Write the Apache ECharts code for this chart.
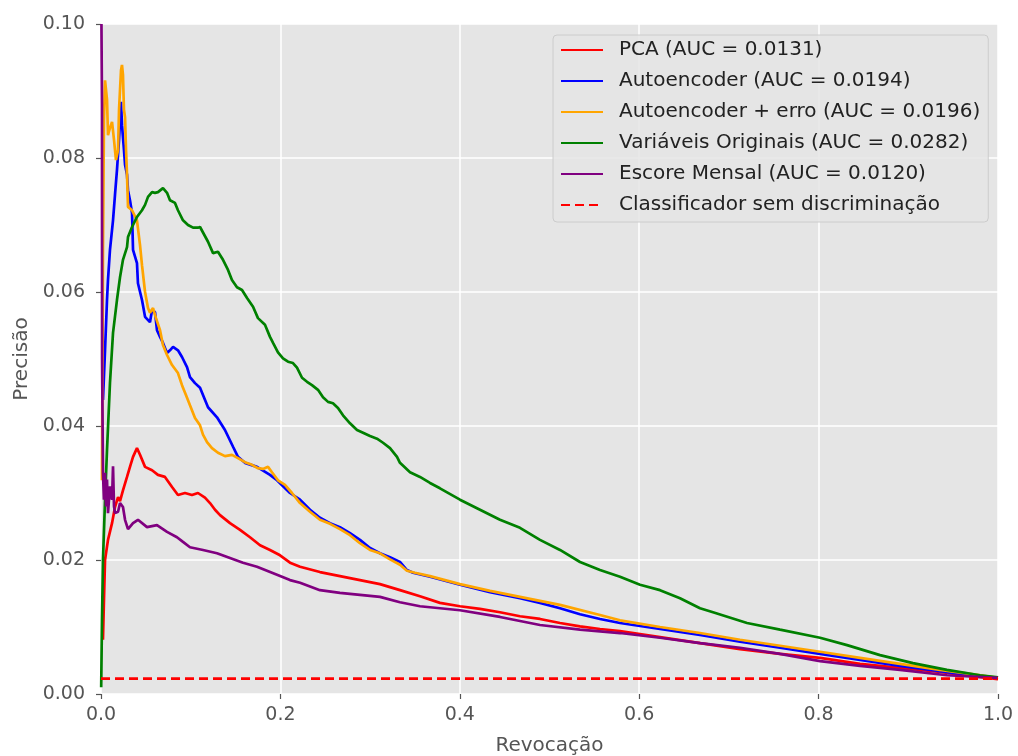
<!DOCTYPE html>
<html>
<head>
<meta charset="utf-8">
<script src="https://cdn.jsdelivr.net/npm/echarts@6/dist/echarts.min.js"></script>
<style>
html,body{margin:0;padding:0;background:#fff;}
#chart{width:1018px;height:756px;}
</style>
</head>
<body>
<div id="chart"></div>
<script>
// [recall, precision] pairs
const pca = [[0.0022,0.0081],[0.0033,0.014],[0.0045,0.020],[0.0078,0.023],[0.0123,0.0255],[0.0156,0.0279],[0.019,0.0294],[0.0212,0.0288],[0.0245,0.0304],[0.029,0.0324],[0.0323,0.0339],[0.0357,0.0354],[0.0401,0.0367],[0.0435,0.0357],[0.0491,0.0339],[0.0569,0.0334],[0.0635,0.0327],[0.0713,0.0324],[0.0792,0.0309],[0.0858,0.0297],[0.0936,0.030],[0.1014,0.0297],[0.1081,0.030],[0.1159,0.0293],[0.1215,0.0285],[0.1271,0.0275],[0.1327,0.0267],[0.1438,0.0255],[0.155,0.0245],[0.1661,0.0234],[0.1773,0.0222],[0.1884,0.0215],[0.1996,0.0207],[0.2107,0.0196],[0.2219,0.019],[0.2441,0.0182],[0.2664,0.0176],[0.2887,0.017],[0.311,0.0164],[0.3333,0.0155],[0.3556,0.0146],[0.3779,0.0136],[0.4002,0.0131],[0.4225,0.0127],[0.4448,0.0122],[0.4671,0.0116],[0.4894,0.0112],[0.5117,0.0106],[0.534,0.0101],[0.5563,0.0097],[0.5786,0.0094],[0.6232,0.0085],[0.6678,0.0076],[0.7124,0.0067],[0.757,0.006],[0.8016,0.0054],[0.8462,0.0045],[0.8907,0.0039],[0.9353,0.0033],[0.9688,0.0027],[1.0,0.0022]];

const autoencoder = [[0.0022,0.0439],[0.0045,0.0513],[0.0067,0.0588],[0.0078,0.0618],[0.01,0.0663],[0.0134,0.0707],[0.0156,0.0745],[0.0178,0.0782],[0.0201,0.0827],[0.0223,0.0884],[0.0234,0.0849],[0.0256,0.0812],[0.0268,0.0790],[0.029,0.0775],[0.0301,0.0752],[0.0323,0.0737],[0.0346,0.0718],[0.0357,0.0663],[0.0401,0.0643],[0.0412,0.0613],[0.0457,0.0588],[0.0491,0.0563],[0.0546,0.0555],[0.0569,0.0573],[0.0602,0.057],[0.0624,0.0543],[0.0658,0.0533],[0.0691,0.0524],[0.0736,0.0509],[0.0769,0.0513],[0.0803,0.0518],[0.0858,0.0513],[0.0903,0.0503],[0.0959,0.0488],[0.0992,0.0473],[0.1048,0.0464],[0.1104,0.0457],[0.1193,0.0428],[0.1293,0.0413],[0.1382,0.0394],[0.1472,0.0369],[0.1527,0.0354],[0.1605,0.0345],[0.1739,0.0339],[0.1884,0.0327],[0.1962,0.0319],[0.2107,0.030],[0.2219,0.029],[0.233,0.0275],[0.2441,0.0263],[0.2553,0.0255],[0.2664,0.0249],[0.2776,0.024],[0.2887,0.023],[0.2999,0.0218],[0.311,0.021],[0.3222,0.0204],[0.3333,0.0197],[0.3411,0.0185],[0.3478,0.0181],[0.3668,0.0175],[0.4002,0.0163],[0.4337,0.0152],[0.4671,0.0143],[0.4894,0.0136],[0.5117,0.0128],[0.534,0.0119],[0.5563,0.0112],[0.5786,0.0106],[0.6232,0.0097],[0.6678,0.0088],[0.7124,0.0078],[0.757,0.0069],[0.8016,0.006],[0.8462,0.0051],[0.8907,0.0042],[0.9353,0.0034],[0.9688,0.0028],[1.0,0.0024]];

const autoencoderErro = [[0.0011,0.0319],[0.0022,0.0663],[0.0033,0.0857],[0.0045,0.0916],[0.0067,0.0887],[0.0078,0.0834],[0.01,0.0845],[0.0123,0.0854],[0.0145,0.0827],[0.0167,0.0797],[0.019,0.0812],[0.0201,0.0872],[0.0223,0.0931],[0.0234,0.0939],[0.0245,0.0924],[0.0256,0.0872],[0.0268,0.0861],[0.0279,0.0812],[0.029,0.0775],[0.0301,0.0727],[0.0346,0.0722],[0.0401,0.0707],[0.0435,0.067],[0.0457,0.064],[0.0491,0.060],[0.0524,0.0576],[0.0546,0.0569],[0.058,0.0576],[0.0613,0.0561],[0.0635,0.0563],[0.0658,0.0543],[0.0691,0.0521],[0.0736,0.0506],[0.0792,0.0491],[0.0858,0.0479],[0.0903,0.0461],[0.0948,0.0446],[0.0992,0.0431],[0.1048,0.0412],[0.1104,0.0401],[0.1137,0.0387],[0.1182,0.0376],[0.1237,0.0367],[0.1304,0.036],[0.1382,0.0355],[0.146,0.0357],[0.1527,0.0352],[0.1605,0.0346],[0.1683,0.0342],[0.175,0.0337],[0.1806,0.0336],[0.1862,0.0339],[0.1906,0.0331],[0.1973,0.0319],[0.2051,0.0312],[0.2129,0.030],[0.2219,0.0285],[0.233,0.0272],[0.2441,0.026],[0.2553,0.0254],[0.2664,0.0246],[0.2776,0.0237],[0.2887,0.0225],[0.2999,0.0215],[0.311,0.021],[0.3222,0.0201],[0.3333,0.0193],[0.3411,0.0184],[0.35,0.0181],[0.3668,0.0176],[0.4002,0.0164],[0.4337,0.0154],[0.4671,0.0145],[0.5117,0.0133],[0.5563,0.0118],[0.5786,0.011],[0.6232,0.010],[0.6678,0.0091],[0.7124,0.0081],[0.757,0.0072],[0.8016,0.0063],[0.8462,0.0054],[0.8907,0.0045],[0.9353,0.0036],[0.9688,0.003],[1.0,0.0024]];

const variaveisOriginais = [[0.0002,0.001],[0.0011,0.011],[0.0022,0.020],[0.0045,0.029],[0.0067,0.0364],[0.01,0.0464],[0.0134,0.0539],[0.0178,0.0588],[0.0212,0.0622],[0.0245,0.0648],[0.029,0.0667],[0.0301,0.0682],[0.0346,0.0697],[0.0401,0.0712],[0.0457,0.0722],[0.0491,0.073],[0.0524,0.0742],[0.0569,0.0749],[0.0602,0.0748],[0.0635,0.0749],[0.0691,0.0755],[0.0736,0.0748],[0.0769,0.0737],[0.0825,0.0733],[0.0858,0.0722],[0.0914,0.0707],[0.097,0.070],[0.1026,0.0696],[0.1081,0.0696],[0.1104,0.0697],[0.1193,0.0675],[0.1249,0.0658],[0.1304,0.066],[0.136,0.0648],[0.1416,0.0633],[0.146,0.0618],[0.1516,0.0607],[0.1572,0.0603],[0.1628,0.0591],[0.1695,0.0578],[0.175,0.0561],[0.1828,0.0551],[0.1884,0.0533],[0.1918,0.0524],[0.1973,0.051],[0.2029,0.0501],[0.2085,0.0496],[0.214,0.0494],[0.2185,0.0487],[0.2241,0.0472],[0.2297,0.0466],[0.2352,0.0461],[0.2419,0.0454],[0.2475,0.0443],[0.2531,0.0436],[0.2586,0.0434],[0.2642,0.0427],[0.2698,0.0416],[0.2776,0.0404],[0.2854,0.0394],[0.2921,0.039],[0.2999,0.0385],[0.3077,0.0381],[0.3144,0.0375],[0.3222,0.0367],[0.330,0.0354],[0.3333,0.0345],[0.3445,0.0331],[0.3556,0.0324],[0.3668,0.0315],[0.3779,0.0307],[0.4002,0.029],[0.4225,0.0275],[0.4448,0.026],[0.4671,0.0248],[0.4894,0.023],[0.5117,0.0215],[0.534,0.0197],[0.5563,0.0185],[0.5786,0.0175],[0.6009,0.0163],[0.6232,0.0155],[0.6455,0.0143],[0.6678,0.0128],[0.6823,0.0122],[0.7202,0.0106],[0.757,0.0096],[0.8016,0.0084],[0.8317,0.0073],[0.8685,0.0058],[0.9052,0.0046],[0.9431,0.0036],[0.9799,0.0028],[1.0,0.0025]];

const escoreMensal = [[0.0005,0.100],[0.0011,0.088],[0.0012,0.050],[0.0022,0.033],[0.0033,0.029],[0.0045,0.033],[0.0056,0.028],[0.0067,0.032],[0.0078,0.027],[0.01,0.031],[0.0123,0.029],[0.0134,0.034],[0.0145,0.028],[0.0156,0.027],[0.019,0.0272],[0.0212,0.0285],[0.0245,0.0279],[0.0268,0.026],[0.0301,0.0246],[0.0357,0.0255],[0.0412,0.026],[0.0513,0.0249],[0.0624,0.0252],[0.0736,0.0242],[0.0847,0.0234],[0.0914,0.0227],[0.0992,0.0219],[0.1137,0.0215],[0.1293,0.021],[0.1438,0.0203],[0.1583,0.0196],[0.1739,0.019],[0.1962,0.0178],[0.2107,0.017],[0.2219,0.0166],[0.2441,0.0155],[0.2664,0.0151],[0.2887,0.0148],[0.311,0.0145],[0.3333,0.0137],[0.3556,0.0131],[0.4002,0.0125],[0.4448,0.0115],[0.4894,0.0103],[0.534,0.0096],[0.5786,0.0091],[0.6232,0.0084],[0.6678,0.0076],[0.7124,0.0069],[0.757,0.006],[0.8016,0.0049],[0.8462,0.0042],[0.8907,0.0036],[0.9431,0.0028],[1.0,0.0024]];

const baseline = [[0,0.0023],[1,0.0023]];

const seriesNames = ['PCA (AUC = 0.0131)','Autoencoder (AUC = 0.0194)','Autoencoder + erro (AUC = 0.0196)','Variáveis Originais (AUC = 0.0282)','Escore Mensal (AUC = 0.0120)','Classificador sem discriminação'];
const seriesColors = ['#ff0000','#0000ff','#ffa500','#008000','#800080','#ff0000'];
const seriesData = [pca, autoencoder, autoencoderErro, variaveisOriginais, escoreMensal, baseline];

const xTicks = ['0.0','0.2','0.4','0.6','0.8','1.0'];
const yTicks = ['0.00','0.02','0.04','0.06','0.08','0.10'];

const FONT = 'DejaVu Sans';
const chart = echarts.init(document.getElementById('chart'), null, {renderer:'canvas'});

const series = seriesData.map((d, i) => ({
  name: seriesNames[i],
  type: 'line',
  data: d,
  showSymbol: false,
  symbol: 'none',
  lineStyle: {
    color: seriesColors[i],
    width: 2.7,
    type: i === 5 ? [9, 5] : 'solid'
  },
  itemStyle: {color: seriesColors[i]},
  z: 2 + i,
  animation: false
}));

chart.setOption({
  animation: false,
  backgroundColor: '#ffffff',
  grid: {
    left: 101, right: 20, top: 24, bottom: 62,
    outerBoundsMode: 'none', containLabel: false,
    show: true, backgroundColor: '#e5e5e5', borderWidth: 0
  },
  xAxis: {
    type: 'value', min: 0, max: 1, interval: 0.2,
    name: 'Revocação', nameLocation: 'middle', nameGap: 42,
    nameTextStyle: {fontFamily: FONT, fontSize: 20, color: '#555555'},
    axisLine: {show: false},
    axisTick: {show: true, length: 5, lineStyle: {color: '#555555', width: 1.2}},
    axisLabel: {fontFamily: FONT, fontSize: 19, color: '#555555', margin: 12,
      formatter: v => xTicks[Math.round(v / 0.2)]},
    splitLine: {show: true, lineStyle: {color: '#ffffff', width: 1.5}}
  },
  yAxis: {
    type: 'value', min: 0, max: 0.1, interval: 0.02,
    name: 'Precisão', nameLocation: 'middle', nameGap: 67, nameRotate: 90,
    nameTextStyle: {fontFamily: FONT, fontSize: 20, color: '#555555'},
    axisLine: {show: false},
    axisTick: {show: true, length: 5, lineStyle: {color: '#555555', width: 1.2}},
    axisLabel: {fontFamily: FONT, fontSize: 19, color: '#555555', margin: 16,
      formatter: v => yTicks[Math.round(v / 0.02)]},
    splitLine: {show: true, lineStyle: {color: '#ffffff', width: 1.5}}
  },
  legend: {
    orient: 'vertical',
    left: 553, top: 35,
    padding: [4, 8, 6, 7],
    itemWidth: 42, itemHeight: 3, itemGap: 9,
    itemStyle: {opacity: 0},
    backgroundColor: 'rgba(229,229,229,0.85)',
    borderColor: '#cccccc', borderWidth: 1, borderRadius: 4,
    textStyle: {fontFamily: FONT, fontSize: 20, color: '#222222', lineHeight: 22, padding: [0,0,0,11]},
    data: seriesNames
  },
  series: series
});
</script>
</body>
</html>
